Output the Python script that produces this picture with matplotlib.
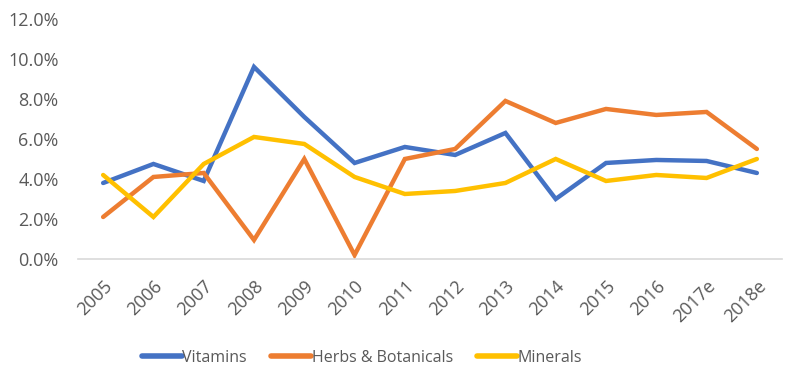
import matplotlib
matplotlib.use("Agg")
import matplotlib.pyplot as plt
from matplotlib.ticker import FuncFormatter

years = ["2005", "2006", "2007", "2008", "2009", "2010", "2011", "2012",
         "2013", "2014", "2015", "2016", "2017e", "2018e"]
vitamins = [3.8, 4.75, 3.9, 9.6, 7.1, 4.8, 5.6, 5.2, 6.3, 3.0, 4.8, 4.95, 4.9, 4.3]
herbs = [2.1, 4.1, 4.3, 0.95, 5.0, 0.2, 5.0, 5.5, 7.9, 6.8, 7.5, 7.2, 7.35, 5.5]
minerals = [4.2, 2.1, 4.75, 6.1, 5.75, 4.1, 3.25, 3.4, 3.8, 5.0, 3.9, 4.2, 4.05, 5.0]

series_names = ["Vitamins", "Herbs & Botanicals", "Minerals"]
colors = ["#4472C4", "#ED7D31", "#FFC000"]

plt.rcParams['font.family'] = ['Open Sans', 'DejaVu Sans']

fig = plt.figure(figsize=(8, 3.86), dpi=100)
ax = fig.add_axes([0.0975, 0.329, 0.88, 0.622])

x = list(range(len(years)))
for vals, name, c in zip([vitamins, herbs, minerals], series_names, colors):
    ax.plot(x, vals, color=c, lw=3.2, label=name, solid_joinstyle='miter',
            solid_capstyle='round')

ax.set_xlim(-0.5, len(years) - 0.5)
ax.set_ylim(0, 12)
ax.set_yticks([0, 2, 4, 6, 8, 10, 12])
ax.yaxis.set_major_formatter(FuncFormatter(lambda v, p: f"{v:.1f}%"))
ax.set_xticks(x)
ax.set_xticklabels(years, rotation=45, ha='right', rotation_mode='anchor')

for s in ['top', 'right', 'left']:
    ax.spines[s].set_visible(False)
ax.spines['bottom'].set_color('#D9D9D9')
ax.spines['bottom'].set_linewidth(1.2)
ax.tick_params(axis='both', length=0, colors='#595959', labelsize=13)
ax.tick_params(axis='y', pad=14)
ax.tick_params(axis='x', pad=13)

leg = fig.legend(loc='center', bbox_to_anchor=(0.4525, 0.073), ncol=3, frameon=False,
                 fontsize=11.5, handlelength=2.5, handletextpad=0.05, columnspacing=1.5)
for t in leg.get_texts():
    t.set_color('#595959')
for h in leg.get_lines():
    h.set_linewidth(4)
    h.set_solid_capstyle('round')

fig.savefig("out.png", dpi=100)
